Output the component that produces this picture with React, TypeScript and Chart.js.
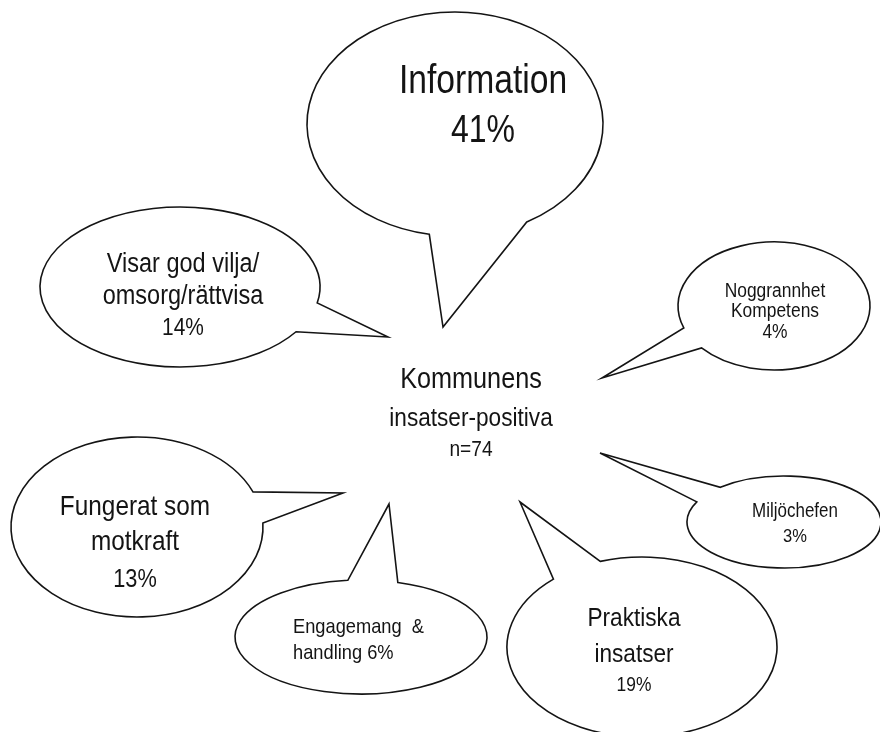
import React, { useEffect, useRef } from 'react';
import { Chart, registerables } from 'chart.js';

Chart.register(...registerables);

// ---- data ----
const categories = [
  'Information',
  'Visar god vilja/omsorg/rättvisa',
  'Noggrannhet Kompetens',
  'Miljöchefen',
  'Praktiska insatser',
  'Engagemang & handling',
  'Fungerat som motkraft',
];
const percentages = [41, 14, 4, 3, 19, 6, 13];
const categoryLines = [
  ['Information'],
  ['Visar god vilja/', 'omsorg/rättvisa'],
  ['Noggrannhet', 'Kompetens'],
  ['Miljöchefen'],
  ['Praktiska', 'insatser'],
  ['Engagemang  &', 'handling'],
  ['Fungerat som', 'motkraft'],
];
const percentOnLastLine = [false, false, false, false, false, true, false];
const centerTitle = ['Kommunens', 'insatser-positiva'];
const sampleSize = 74;

// ---- layout (in units of the hidden x / y scales) ----
const bubbleX = [455, 180, 774, 784, 642, 361, 137];
const bubbleY = [124, 287, 306, 522, 647, 637, 527];
const radiusX = [148, 140, 96, 97, 135, 126, 126];
const radiusY = [112, 80, 64, 46, 90, 57, 90];
const tipX = [443, 388, 602, 600, 520, 389, 343];
const tipY = [327, 337, 378, 453, 502, 504, 493];
const bodyStartDeg = [100, 34, 160, 229, 252, 287, 357.5];
const bodyEndDeg = [61, 11.5, 139, 206, 229, 264, 337];
const textX = [483, 183, 775, 795, 634, 293, 135];
const textBaselines = [
  [93, 142],
  [272, 304, 335],
  [297, 317, 338],
  [517, 542],
  [626, 662, 691],
  [633, 659],
  [515, 550, 587],
];
const textSizes = [
  [41, 39],
  [27, 27, 24],
  [20, 20, 20],
  [19.5, 19],
  [26, 26, 20],
  [21, 21],
  [28, 28, 25],
];
const textAlignments = ['center', 'center', 'center', 'center', 'center', 'left', 'center'];
const textSqueeze = [0.82, 0.87, 0.87, 0.87, 0.87, 0.87, 0.87];
const centerX = 471;
const centerBaselines = [388, 426, 456];
const centerSizes = [29, 26, 22];

const FONT = "'Liberation Sans', Arial, Helvetica, sans-serif";
const INK = '#141414';

function drawText(
  ctx: CanvasRenderingContext2D,
  text: string,
  px: number,
  py: number,
  size: number,
  squeeze: number,
  align: string
) {
  ctx.save();
  ctx.translate(px, py);
  ctx.scale(squeeze, 1);
  ctx.font = `${size}px ${FONT}`;
  ctx.textAlign = align as CanvasTextAlign;
  ctx.textBaseline = 'alphabetic';
  ctx.fillStyle = INK;
  ctx.fillText(text, 0, 0);
  ctx.restore();
}

const bubblePlugin = {
  id: 'speechBubbles',
  afterDatasetsDraw(chart: any) {
    const { ctx } = chart;
    const xs = chart.scales.x;
    const ys = chart.scales.y;
    const meta = chart.getDatasetMeta(0);
    meta.data.forEach((el: any, i: number) => {
      const cx = el.x;
      const cy = el.y;
      const rx = Math.abs(xs.getPixelForValue(bubbleX[i] + radiusX[i]) - cx);
      const ry = Math.abs(ys.getPixelForValue(bubbleY[i] + radiusY[i]) - cy);
      const tx = xs.getPixelForValue(tipX[i]);
      const ty = ys.getPixelForValue(tipY[i]);
      const a0 = (bodyStartDeg[i] * Math.PI) / 180;
      let a1 = (bodyEndDeg[i] * Math.PI) / 180;
      if (a1 < a0) a1 += Math.PI * 2;
      ctx.save();
      ctx.beginPath();
      ctx.moveTo(tx, ty);
      ctx.lineTo(cx + rx * Math.cos(a0), cy + ry * Math.sin(a0));
      ctx.ellipse(cx, cy, rx, ry, 0, a0, a1, false);
      ctx.closePath();
      ctx.fillStyle = '#ffffff';
      ctx.fill();
      ctx.lineWidth = 1.6;
      ctx.lineJoin = 'miter';
      ctx.strokeStyle = INK;
      ctx.stroke();
      ctx.restore();

      const lines = categoryLines[i].slice();
      const pct = `${percentages[i]}%`;
      if (percentOnLastLine[i]) {
        lines[lines.length - 1] = `${lines[lines.length - 1]} ${pct}`;
      } else {
        lines.push(pct);
      }
      const px = xs.getPixelForValue(textX[i]);
      lines.forEach((line: string, j: number) => {
        drawText(
          ctx,
          line,
          px,
          ys.getPixelForValue(textBaselines[i][j]),
          textSizes[i][j],
          textSqueeze[i],
          textAlignments[i]
        );
      });
    });

    const centerLines = [...centerTitle, `n=${sampleSize}`];
    const cpx = xs.getPixelForValue(centerX);
    centerLines.forEach((line, j) => {
      drawText(ctx, line, cpx, ys.getPixelForValue(centerBaselines[j]), centerSizes[j], 0.87, 'center');
    });
  },
};

export default function App() {
  const canvasRef = useRef<HTMLCanvasElement | null>(null);

  useEffect(() => {
    document.body.style.margin = '0';
    document.body.style.background = '#ffffff';
    const canvas = canvasRef.current;
    if (!canvas) return;
    const chart = new Chart(canvas, {
      type: 'scatter',
      data: {
        labels: categories,
        datasets: [
          {
            label: 'Kommunens insatser-positiva',
            data: categories.map((_, i) => ({ x: bubbleX[i], y: bubbleY[i] })),
            pointRadius: 0,
            pointHoverRadius: 0,
            showLine: false,
          },
        ],
      },
      options: {
        responsive: false,
        animation: false,
        devicePixelRatio: 1,
        layout: { padding: 0 },
        plugins: {
          legend: { display: false },
          tooltip: { enabled: false },
          title: { display: false },
        },
        scales: {
          x: { type: 'linear', min: 0, max: 880, display: false },
          y: { type: 'linear', min: 0, max: 732, reverse: true, display: false },
        },
      },
      plugins: [bubblePlugin],
    });
    return () => chart.destroy();
  }, []);

  return (
    <div style={{ width: 880, height: 732, background: '#ffffff' }}>
      <canvas ref={canvasRef} width={880} height={732} />
    </div>
  );
}
